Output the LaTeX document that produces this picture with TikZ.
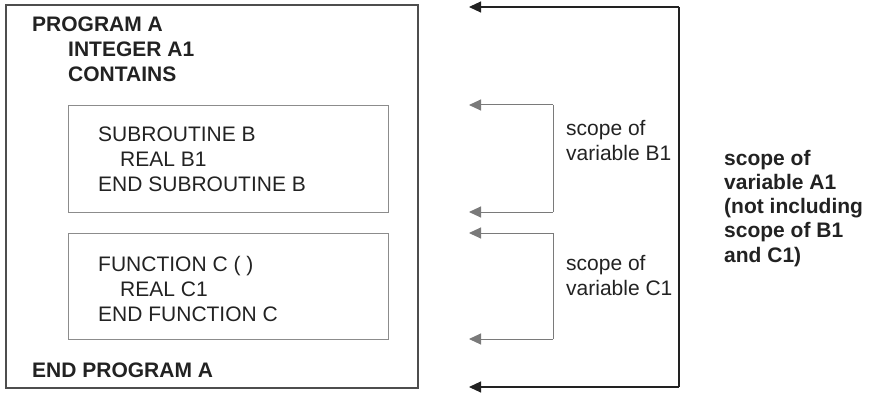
\documentclass[tikz,border=0pt]{standalone}
\usepackage{fontspec}
\setmainfont{Liberation Sans}
\usetikzlibrary{arrows.meta}
\definecolor{boxgray}{HTML}{8C8C8C}
\definecolor{arrgray}{HTML}{7A7A7A}
\definecolor{dark}{HTML}{222222}
\tikzset{
  code/.style={anchor=base west, inner sep=0pt, font=\fontsize{21}{25}\selectfont, text=dark},
  codeb/.style={code, font=\fontsize{21}{25}\selectfont\bfseries},
  note/.style={anchor=base west, inner sep=0pt, align=left, font=\fontsize{21}{24.5}\selectfont, text=dark},
  noteb/.style={anchor=base west, inner sep=0pt, align=left, font=\fontsize{21}{24.2}\selectfont\bfseries, text=dark},
  outerbox/.style={draw=dark!80, line width=1.1pt},
  innerbox/.style={draw=boxgray, line width=0.9pt},
  blackarr/.style={draw=dark, line width=1.1pt, -{Triangle[length=12pt,width=11pt]}},
  grayarr/.style={draw=arrgray, line width=1pt, -{Triangle[length=12pt,width=11pt]}},
}
\begin{document}
\begin{tikzpicture}[x=1pt,y=-1pt]
\useasboundingbox (0,0) rectangle (869,393);
% boxes
\draw[outerbox] (6,5) rectangle (418,388);
\draw[innerbox] (68,105) rectangle (388,212);
\draw[innerbox] (68,233) rectangle (388,339);
% code text
\node[codeb] (pa) at (32,32) {PROGRAM A};
\node[codeb] (ia) at (68,57) {INTEGER A1};
\node[codeb] (ct) at (68,82) {CONTAINS};
\node[code] (sb) at (98,141) {SUBROUTINE B};
\node[code] (rb) at (120,166) {REAL B1};
\node[code] (esb) at (98,191) {END SUBROUTINE B};
\node[code] (fc) at (98,271) {FUNCTION C ( )};
\node[code] (rc) at (120,296) {REAL C1};
\node[code] (efc) at (98,321) {END FUNCTION C};
\node[codeb] (epa) at (32,377) {END PROGRAM A};
% arrow coordinates
\coordinate (atop) at (679,7);
\coordinate (atopend) at (469,7);
\coordinate (abot) at (679,387);
\coordinate (abotend) at (469,387);
\coordinate (btop) at (553,105);
\coordinate (btopend) at (469,105);
\coordinate (bbot) at (553,212);
\coordinate (bbotend) at (469,212);
\coordinate (ctop) at (553,233);
\coordinate (ctopend) at (469,233);
\coordinate (cbot) at (553,339);
\coordinate (cbotend) at (469,339);
% arrows
\draw[line width=1.1pt, draw=dark] (atop) -- (abot);
\draw[blackarr] (atop) -- (atopend);
\draw[blackarr] (abot) -- (abotend);
\draw[line width=1pt, draw=arrgray] (btop) -- (bbot);
\draw[grayarr] (btop) -- (btopend);
\draw[grayarr] (bbot) -- (bbotend);
\draw[line width=1pt, draw=arrgray] (ctop) -- (cbot);
\draw[grayarr] (ctop) -- (ctopend);
\draw[grayarr] (cbot) -- (cbotend);
% labels (base anchor = baseline of last line)
\node[note] (lb) at (566,160) {scope of\\variable B1};
\node[note] (lc) at (566,295) {scope of\\variable C1};
\node[noteb] (la) at (724,262) {scope of\\variable A1\\(not including\\scope of B1\\and C1)};
\end{tikzpicture}
\end{document}
